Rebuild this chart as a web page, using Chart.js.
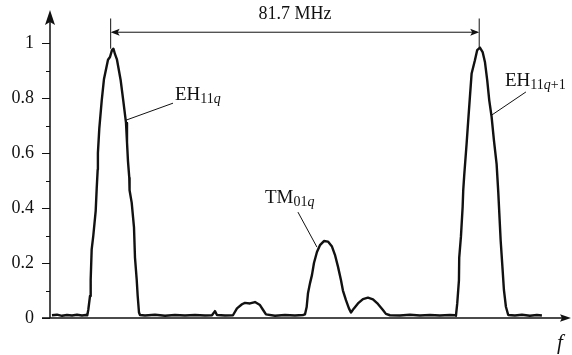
<!DOCTYPE html>
<html>
<head>
<meta charset="utf-8">
<script src="https://cdn.jsdelivr.net/npm/chart.js@4.4.1/dist/chart.umd.min.js"></script>
<style>
  html, body { margin: 0; padding: 0; background: #fff; }
  #wrap { width: 572px; height: 355px; }
</style>
</head>
<body>
<div id="wrap"><canvas id="spectrum" width="572" height="355"></canvas></div>
<script>
// frequency offset from the start of the sweep (MHz) and normalised response
const freqMHz = [
  0.44, 1.55, 2.66, 3.77, 4.88, 5.98, 7.09, 7.98,
  8.27, 8.49, 8.87, 9.02, 9.24, 9.60, 10.13, 10.35, 10.57, 10.62, 10.93, 11.46,
  11.97, 12.86, 13.30, 13.74, 14.07, 14.41, 14.85, 15.67, 16.25, 16.85, 17.07,
  17.29, 17.58, 17.64, 18.11, 18.62, 18.84, 19.22, 19.44, 19.73, 19.95,
  21.06, 23.27, 25.49, 27.71, 29.92, 32.14, 34.36, 35.91, 36.57, 37.01, 38.79,
  40.56, 41.45, 42.56, 43.22, 44.33, 45.44, 46.55, 47.21, 47.88,
  49.87, 52.09, 54.30, 56.08, 56.52, 56.90, 57.19, 57.63, 58.07, 58.52, 59.18,
  59.85, 60.73, 61.62, 62.51, 63.17, 63.84, 64.50, 64.94, 65.61, 66.27, 66.72,
  67.38, 68.27, 69.38, 70.49, 71.60, 72.70, 73.81, 74.47, 75.36,
  77.58, 79.79, 82.01, 84.23, 86.44, 88.66, 89.77,
  89.99, 90.28, 90.66, 90.72, 91.10, 91.48, 91.61, 91.83, 92.36, 92.72, 93.09,
  93.47, 94.20, 94.71, 95.31, 95.91, 96.42, 96.93, 97.37, 97.90, 98.41, 99.01,
  99.37, 99.90, 100.34, 100.63, 101.07, 101.58,
  103.07, 104.62, 106.39, 107.94, 109.05
];
const amplitude = [
  0.010, 0.012, 0.008, 0.011, 0.009, 0.012, 0.009, 0.011,
  0.010, 0.030, 0.080, 0.140, 0.250, 0.300, 0.390, 0.470, 0.540, 0.600, 0.690, 0.790,
  0.870, 0.940, 0.950, 0.975, 0.980, 0.960, 0.940, 0.865, 0.790, 0.710, 0.640,
  0.570, 0.510, 0.465, 0.420, 0.330, 0.220, 0.140, 0.080, 0.020, 0.011,
  0.009, 0.012, 0.008, 0.011, 0.009, 0.011, 0.009, 0.010, 0.025, 0.011, 0.009,
  0.010, 0.035, 0.050, 0.055, 0.053, 0.058, 0.047, 0.030, 0.013,
  0.008, 0.011, 0.009, 0.011, 0.013, 0.040, 0.090, 0.126, 0.156, 0.200, 0.240,
  0.265, 0.280, 0.278, 0.260, 0.230, 0.187, 0.138, 0.100, 0.065, 0.035, 0.020,
  0.035, 0.053, 0.069, 0.074, 0.068, 0.051, 0.029, 0.015, 0.010,
  0.009, 0.012, 0.009, 0.011, 0.009, 0.011, 0.010,
  0.008, 0.053, 0.138, 0.220, 0.296, 0.405, 0.465, 0.520, 0.635, 0.720, 0.805,
  0.890, 0.938, 0.975, 0.984, 0.968, 0.932, 0.865, 0.793, 0.732, 0.647, 0.560,
  0.460, 0.284, 0.175, 0.102, 0.041, 0.011,
  0.009, 0.012, 0.008, 0.011, 0.009
];

const yTicks = [0, 0.2, 0.4, 0.6, 0.8, 1];
const yTickLabels = ['0', '0.2', '0.4', '0.6', '0.8', '1'];
const yMinorTicks = [0.1, 0.3, 0.5, 0.7, 0.9];

// EH11q and EH11q+1 resonance positions (MHz)
const markFreqs = [13.45, 95.15];

// mode labels: point on the curve + leader/text offsets in px
const modeLabels = [
  { f: 16.85, a: 0.72, lead: [47, -17], text: [49, -20],
    parts: [['EH', 0], ['11', 1], ['q', 2]] },
  { f: 59.18, a: 0.258, lead: [-19, -35], text: [-52, -44],
    parts: [['TM', 0], ['01', 1], ['q', 2]] },
  { f: 97.97, a: 0.739, lead: [34, -23], text: [13, -29],
    parts: [['EH', 0], ['11', 1], ['q', 2], ['+1', 1]] }
];

const serif = '"Liberation Serif", "DejaVu Serif", serif';
const ink = '#111';

const points = freqMHz.map((f, i) => ({ x: f, y: amplitude[i] }));

function arrowHead(ctx, x, y, dx, dy, len, half, notch) {
  // tip at (x,y), pointing along (dx,dy)
  const px = -dy, py = dx;
  ctx.beginPath();
  ctx.moveTo(x, y);
  ctx.lineTo(x - dx * len + px * half, y - dy * len + py * half);
  ctx.lineTo(x - dx * (len - notch), y - dy * (len - notch));
  ctx.lineTo(x - dx * len - px * half, y - dy * len - py * half);
  ctx.closePath();
  ctx.fill();
}

const decorations = {
  id: 'decorations',
  afterDatasetsDraw(chart) {
    const ctx = chart.ctx;
    const xs = chart.scales.x, ys = chart.scales.y;
    const area = chart.chartArea;
    const x0 = xs.getPixelForValue(0);
    const y0 = ys.getPixelForValue(0);

    ctx.save();
    ctx.strokeStyle = ink;
    ctx.fillStyle = ink;

    // axes
    ctx.lineWidth = 1.5;
    ctx.beginPath();
    ctx.moveTo(x0, y0);
    ctx.lineTo(x0, area.top);
    ctx.moveTo(x0 - 8, y0);
    ctx.lineTo(area.right - 4, y0);
    ctx.stroke();
    arrowHead(ctx, x0, area.top - 3, 0, -1, 15, 5, 3);
    arrowHead(ctx, area.right, y0, 1, 0, 11, 3.8, 2);

    // y ticks
    ctx.lineWidth = 1.2;
    ctx.beginPath();
    yTicks.forEach(v => {
      const y = Math.round(ys.getPixelForValue(v)) + 0.5;
      ctx.moveTo(x0 - 8, y);
      ctx.lineTo(x0, y);
    });
    yMinorTicks.forEach(v => {
      const y = Math.round(ys.getPixelForValue(v)) + 0.5;
      ctx.moveTo(x0 - 4, y);
      ctx.lineTo(x0, y);
    });
    ctx.stroke();

    ctx.font = '18px ' + serif;
    ctx.textAlign = 'right';
    ctx.textBaseline = 'middle';
    yTicks.forEach((v, i) => {
      ctx.fillText(yTickLabels[i], x0 - 16, ys.getPixelForValue(v) + 0.5);
    });

    // axis name
    ctx.font = 'italic 21px ' + serif;
    ctx.textAlign = 'left';
    ctx.textBaseline = 'alphabetic';
    ctx.fillText('f', 557, 349);

    // spacing between the two EH11 resonances
    const xa = xs.getPixelForValue(markFreqs[0]);
    const xb = xs.getPixelForValue(markFreqs[1]);
    const yDim = ys.getPixelForValue(1.04);
    const yTop = ys.getPixelForValue(1.09);
    ctx.lineWidth = 1;
    ctx.beginPath();
    markFreqs.forEach(m => {
      let peak = 0;
      freqMHz.forEach((f, i) => { if (Math.abs(f - m) < 2) peak = Math.max(peak, amplitude[i]); });
      const x = xs.getPixelForValue(m);
      ctx.moveTo(x, yTop);
      ctx.lineTo(x, ys.getPixelForValue(peak));
    });
    ctx.moveTo(xa + 2, yDim);
    ctx.lineTo(xb - 2, yDim);
    ctx.stroke();
    arrowHead(ctx, xa, yDim, -1, 0, 9, 3.5, 2);
    arrowHead(ctx, xb, yDim, 1, 0, 9, 3.5, 2);

    ctx.font = '18px ' + serif;
    ctx.textAlign = 'center';
    ctx.textBaseline = 'middle';
    ctx.fillText((markFreqs[1] - markFreqs[0]).toFixed(1) + ' MHz', (xa + xb) / 2, 14);

    // mode labels with leaders
    modeLabels.forEach(lb => {
      const ax = xs.getPixelForValue(lb.f);
      const ay = ys.getPixelForValue(lb.a);
      ctx.lineWidth = 1;
      ctx.beginPath();
      ctx.moveTo(ax, ay);
      ctx.lineTo(ax + lb.lead[0], ay + lb.lead[1]);
      ctx.stroke();

      let tx = ax + lb.text[0];
      const ty = ay + lb.text[1];
      ctx.textAlign = 'left';
      ctx.textBaseline = 'alphabetic';
      lb.parts.forEach(([t, kind]) => {
        if (kind === 0) ctx.font = '19px ' + serif;
        else if (kind === 1) ctx.font = '14px ' + serif;
        else ctx.font = 'italic 14px ' + serif;
        ctx.fillText(t, tx, kind === 0 ? ty : ty + 3);
        tx += ctx.measureText(t).width;
      });
    });

    ctx.restore();
  }
};

new Chart(document.getElementById('spectrum'), {
  type: 'line',
  data: {
    datasets: [{
      data: points,
      borderColor: ink,
      borderWidth: 2.4,
      borderJoinStyle: 'round',
      pointRadius: 0,
      tension: 0,
      fill: false
    }]
  },
  options: {
    responsive: false,
    animation: false,
    layout: { padding: { left: 50, right: 1, top: 13, bottom: 37 } },
    plugins: {
      legend: { display: false },
      tooltip: { enabled: false }
    },
    scales: {
      x: { type: 'linear', min: 0, max: 115.5, display: false },
      y: { min: 0, max: 1.11, display: false }
    }
  },
  plugins: [decorations]
});
</script>
</body>
</html>
